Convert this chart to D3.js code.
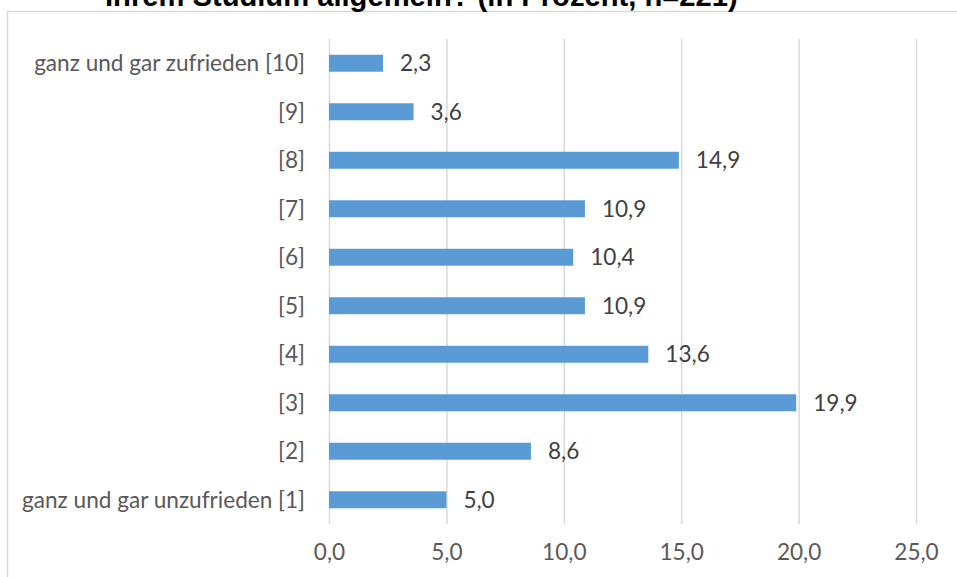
<!DOCTYPE html>
<html>
<head>
<meta charset="utf-8">
<script src="https://cdn.jsdelivr.net/npm/d3@7"></script>
<style>
  body { margin: 0; background: #fff; }
  svg { display: block; }
</style>
</head>
<body>
<div id="chart"></div>
<script>
var svgWidth = 957;
var svgHeight = 577;

// data
var categories = ["ganz und gar zufrieden [10]", "[9]", "[8]", "[7]", "[6]", "[5]", "[4]", "[3]", "[2]", "ganz und gar unzufrieden [1]"];
var values = [2.3, 3.6, 14.9, 10.9, 10.4, 10.9, 13.6, 19.9, 8.6, 5.0];
var xTicks = [0, 5, 10, 15, 20, 25];
var titleText = "Ihrem Studium allgemein? (in Prozent, n=221)";

var data = categories.map(function(c, i) { return { cat: c, val: values[i] }; });

var plot = { left: 329, right: 916, top: 39, bottom: 524 };
var font = "Lato, Open Sans, sans-serif";

var svg = d3.select("#chart")
  .append("svg")
  .attr("width", svgWidth)
  .attr("height", svgHeight);

// chart frame (runs off the page on right/bottom)
svg.append("rect")
  .attr("x", 7.5)
  .attr("y", 11.5)
  .attr("width", 980)
  .attr("height", 600)
  .attr("fill", "none")
  .attr("stroke", "#d9d9d9")
  .attr("stroke-width", 1.5);

// title, mostly cut off at the top
var title = svg.append("text")
  .attr("x", 105)
  .attr("y", 6)
  .attr("font-family", "Liberation Sans, Arial, sans-serif")
  .attr("font-weight", "bold")
  .attr("font-size", 20)
  .attr("fill", "#000")
  .text(titleText);
var tw = title.node().getComputedTextLength();
title.attr("font-size", 20 * 633 / tw);

// pick a label size so the long label is as wide as in the original
var probe = svg.append("text")
  .attr("font-family", font)
  .attr("font-size", 20)
  .text(categories[categories.length - 1]);
var fs = 20 * 283 / probe.node().getComputedTextLength();
probe.remove();

var xScale = d3.scaleLinear()
  .domain([0, 25])
  .range([plot.left, plot.right]);

var yScale = d3.scaleBand()
  .domain(categories)
  .range([plot.top, plot.bottom])
  .paddingInner(0.65)
  .paddingOuter(0.325);

// gridlines
var xAxis = d3.axisBottom(xScale)
  .tickValues(xTicks)
  .tickSize(-(plot.bottom - plot.top))
  .tickPadding(20)
  .tickFormat(function(d) { return d3.format(".1f")(d).replace(".", ","); });

var gx = svg.append("g")
  .attr("transform", `translate(0, ${plot.bottom})`)
  .call(xAxis);
gx.select(".domain").remove();
gx.selectAll(".tick line")
  .attr("stroke", "#d9d9d9")
  .attr("stroke-width", 1.5);
gx.selectAll(".tick text")
  .attr("fill", "#595959")
  .attr("font-family", font)
  .attr("font-size", fs);

// bars
svg.selectAll(".bar")
  .data(data)
  .enter()
  .append("rect")
  .attr("class", "bar")
  .attr("x", xScale(0))
  .attr("y", d => yScale(d.cat))
  .attr("width", d => xScale(d.val) - xScale(0))
  .attr("height", yScale.bandwidth())
  .attr("fill", "#5b9bd5");

// value labels
svg.selectAll(".val")
  .data(data)
  .enter()
  .append("text")
  .attr("class", "val")
  .attr("x", d => xScale(d.val) + 17)
  .attr("y", d => yScale(d.cat) + yScale.bandwidth() / 2)
  .attr("dy", "0.35em")
  .attr("fill", "#404040")
  .attr("font-family", font)
  .attr("font-size", fs)
  .text(d => d3.format(".1f")(d.val).replace(".", ","));

// category labels
svg.selectAll(".cat")
  .data(data)
  .enter()
  .append("text")
  .attr("class", "cat")
  .attr("x", 305)
  .attr("y", d => yScale(d.cat) + yScale.bandwidth() / 2)
  .attr("dy", "0.35em")
  .attr("text-anchor", "end")
  .attr("fill", "#595959")
  .attr("font-family", font)
  .attr("font-size", fs)
  .text(d => d.cat);
</script>
</body>
</html>
